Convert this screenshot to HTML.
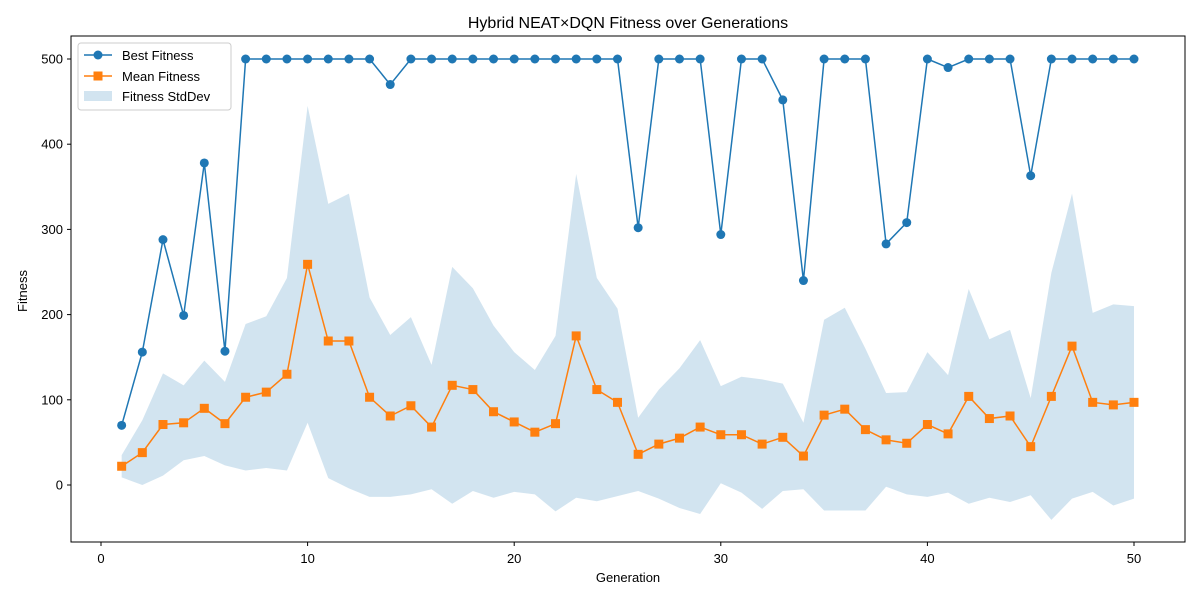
<!DOCTYPE html>
<html><head><meta charset="utf-8"><style>
body{margin:0;background:#fff;font-family:"Liberation Sans","DejaVu Sans",sans-serif;}
svg text{font-family:"Liberation Sans","DejaVu Sans",sans-serif;}
</style></head><body>
<svg id="chart" width="1200" height="600" xmlns="http://www.w3.org/2000/svg"></svg>
<script>
const generations=[];for(let g=1;g<=50;g++)generations.push(g);
const bestFitness=[70,156,288,199,378,157,500,500,500,500,500,500,500,470,500,500,500,500,500,500,500,500,500,500,500,302,500,500,500,294,500,500,452,240,500,500,500,283,308,500,490,500,500,500,363,500,500,500,500,500];
const meanFitness=[22,38,71,73,90,72,103,109,130,259,169,169,103,81,93,68,117,112,86,74,62,72,175,112,97,36,48,55,68,59,59,48,56,34,82,89,65,53,49,71,60,104,78,81,45,104,163,97,94,97];
const stdFitness=[13,38,60,44,56,49,86,89,113,186,161,173,117,95,104,73,139,119,101,82,73,103,190,131,110,43,64,82,102,57,68,76,63,39,112,119,95,55,60,85,69,126,93,101,57,145,179,105,118,113];
const xTicks=[0,10,20,30,40,50];
const yTicks=[0,100,200,300,400,500];
const L=71,R=1185,T=36,B=542;
const X=v=>101+v*(1033/50);
const Y=v=>485-v*(426/500);
const svg=document.getElementById('chart');
const NS='http://www.w3.org/2000/svg';
function mk(tag,attrs,parent){const e=document.createElementNS(NS,tag);for(const k in attrs)e.setAttribute(k,attrs[k]);(parent||svg).appendChild(e);return e;}
let up=generations.map((g,i)=>X(g)+','+Y(meanFitness[i]+stdFitness[i]));
let lo=generations.map((g,i)=>X(g)+','+Y(meanFitness[i]-stdFitness[i])).reverse();
const band=mk('polygon',{points:up.concat(lo).join(' '),fill:'#1f77b4','fill-opacity':0.2});


const bl=mk('polyline',{points:generations.map((g,i)=>X(g)+','+Y(bestFitness[i])).join(' '),fill:'none',stroke:'#1f77b4','stroke-width':1.5});


generations.forEach((g,i)=>{const c=mk('circle',{cx:X(g),cy:Y(bestFitness[i]),r:4.5,fill:'#1f77b4'});

});
const ml=mk('polyline',{points:generations.map((g,i)=>X(g)+','+Y(meanFitness[i])).join(' '),fill:'none',stroke:'#ff7f0e','stroke-width':1.5});


generations.forEach((g,i)=>{const s=mk('rect',{x:X(g)-4.5,y:Y(meanFitness[i])-4.5,width:9,height:9,fill:'#ff7f0e'});

});
const fr=mk('rect',{x:L,y:T,width:R-L,height:B-T,fill:'none',stroke:'#000','stroke-width':1});


xTicks.forEach(t=>{mk('line',{x1:X(t),x2:X(t),y1:B,y2:B+4,stroke:'#000'});
const tx=mk('text',{x:X(t),y:B+21,'text-anchor':'middle','font-size':13,fill:'#000'});tx.textContent=t;

});
yTicks.forEach(t=>{mk('line',{x1:L-4,x2:L,y1:Y(t),y2:Y(t),stroke:'#000'});
const tx=mk('text',{x:L-8,y:Y(t)+4.5,'text-anchor':'end','font-size':13,fill:'#000'});tx.textContent=t;

});
</script>
<svg width="1200" height="600" style="position:absolute;left:0;top:0" xmlns="http://www.w3.org/2000/svg">
<text x="628" y="28" text-anchor="middle" font-size="16">Hybrid NEAT×DQN Fitness over Generations</text>
<text x="628" y="582" text-anchor="middle" font-size="13">Generation</text>
<text x="27" y="291" text-anchor="middle" font-size="13" transform="rotate(-90 27 291)">Fitness</text>
<g>
<rect x="78" y="43" width="153" height="67" rx="3" fill="#fff" fill-opacity="0.8" stroke="#ccc"/>
<line x1="84" x2="112" y1="55" y2="55" stroke="#1f77b4" stroke-width="1.5"/><circle cx="98" cy="55" r="4.5" fill="#1f77b4"/>
<text x="122" y="60" font-size="13">Best Fitness</text>
<line x1="84" x2="112" y1="76" y2="76" stroke="#ff7f0e" stroke-width="1.5"/><rect x="93.5" y="71.5" width="9" height="9" fill="#ff7f0e"/>
<text x="122" y="81" font-size="13">Mean Fitness</text>
<rect x="84" y="91" width="28" height="10" fill="#1f77b4" fill-opacity="0.2"/>
<text x="122" y="101" font-size="13">Fitness StdDev</text>
</g>
</svg>
</body></html>
